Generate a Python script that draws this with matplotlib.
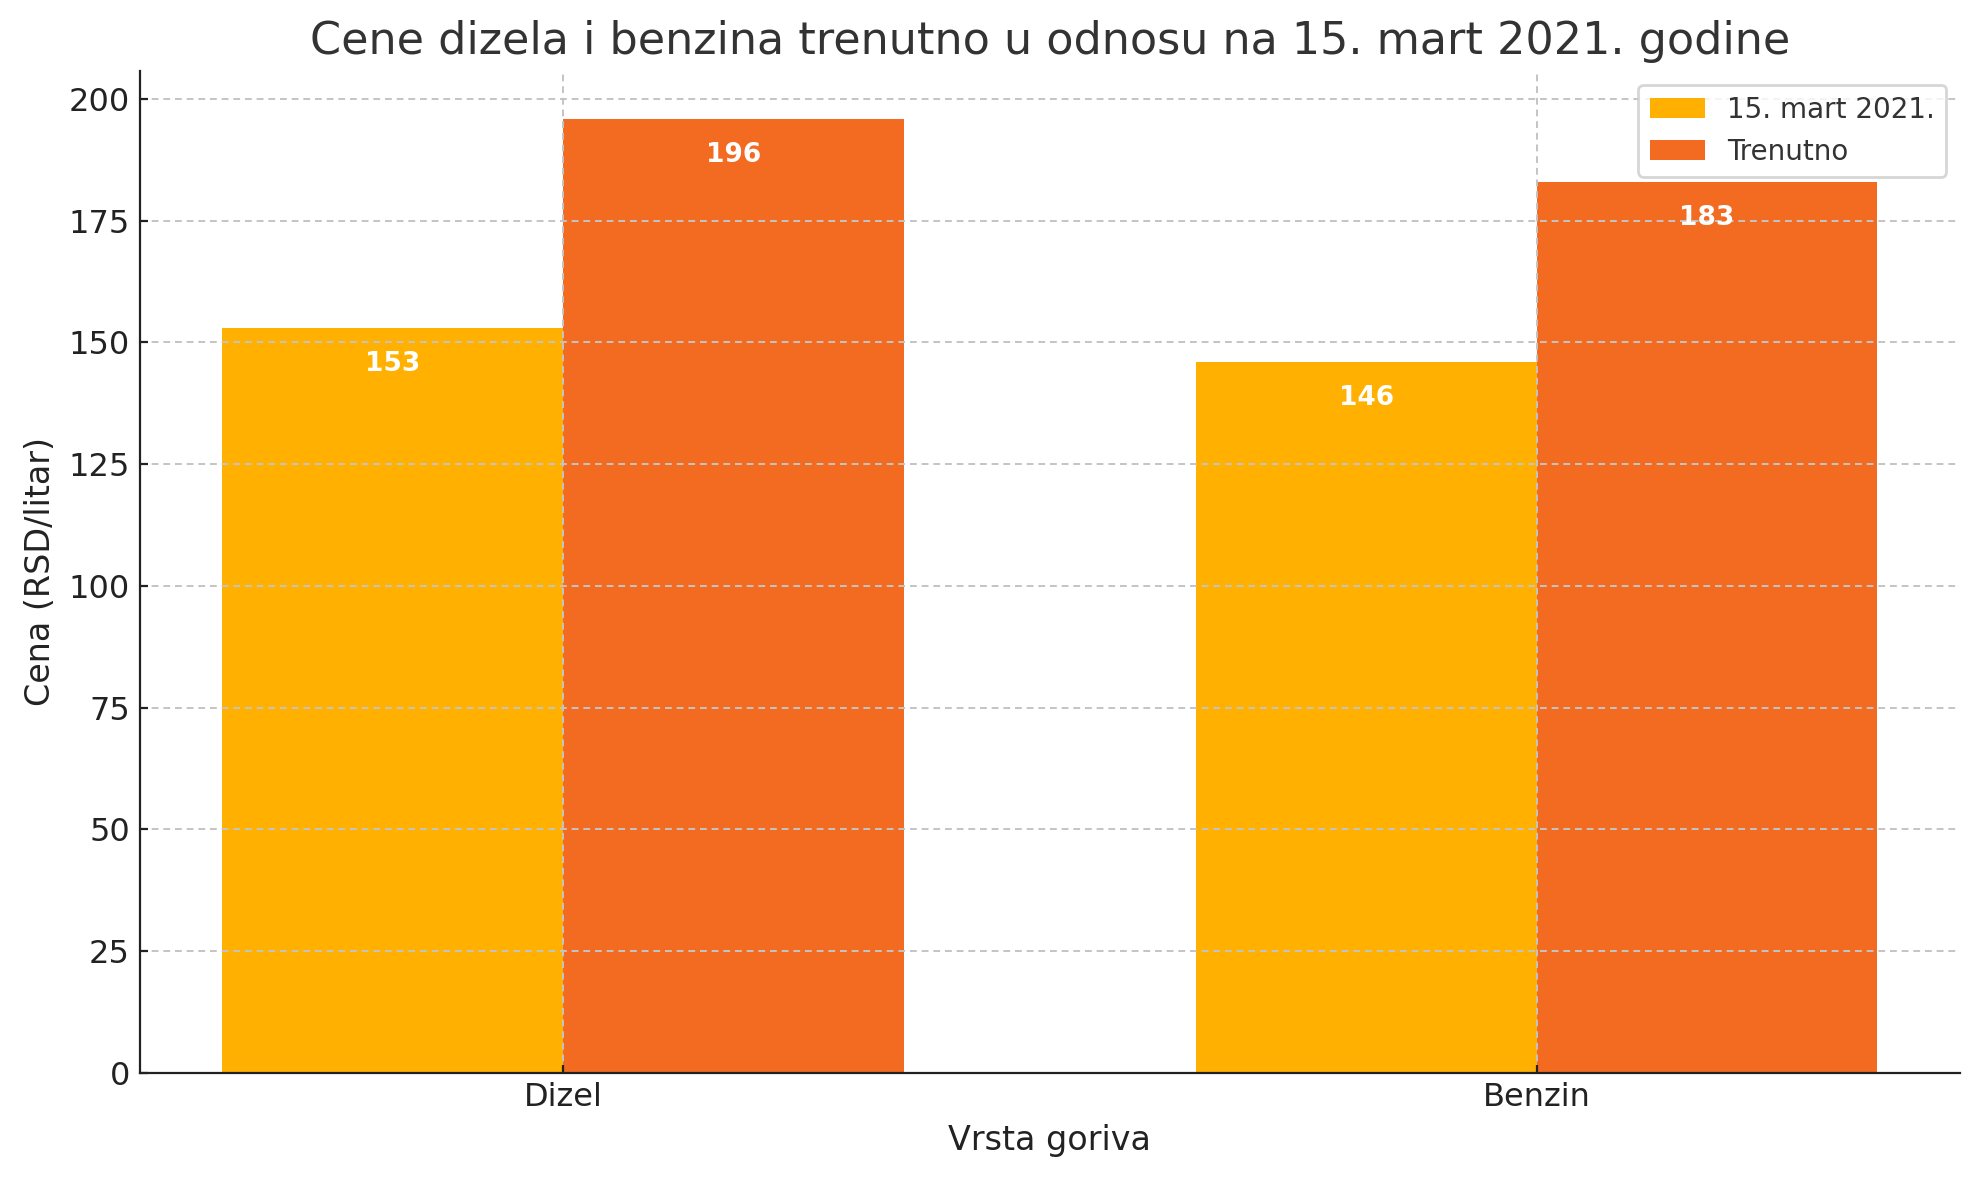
import numpy as np
import matplotlib.pyplot as plt

categories = ["Dizel", "Benzin"]
series_names = ["15. mart 2021.", "Trenutno"]
prices_2021 = [153, 146]
prices_now = [196, 183]

COLORS = ["#FFB000", "#F36A21"]
TEXT = "#333333"
W = 0.35

fig, ax = plt.subplots(figsize=(9.895, 5.9), dpi=200)
fig.subplots_adjust(left=0.0705, right=0.9905, top=0.94, bottom=0.091)

x = np.arange(len(categories))
b1 = ax.bar(x - W / 2, prices_2021, W, color=COLORS[0], label=series_names[0])
b2 = ax.bar(x + W / 2, prices_now, W, color=COLORS[1], label=series_names[1])

for bars in (b1, b2):
    for bar in bars:
        h = bar.get_height()
        ax.text(bar.get_x() + bar.get_width() / 2, h - 7.5, f"{h:.0f}",
                ha="center", va="center", color="white", fontsize=9.5, fontweight="bold")

ax.set_xticks(x)
ax.set_xticklabels(categories)
ax.tick_params(labelsize=11.5, colors="#222222", direction="in", length=3)
ax.set_xlabel("Vrsta goriva", fontsize=12, color="#222222")
ax.set_ylabel("Cena (RSD/litar)", fontsize=12, color="#222222")
ax.set_title("Cene dizela i benzina trenutno u odnosu na 15. mart 2021. godine",
             fontsize=16, color=TEXT)

ax.grid(True, linestyle=(0, (3.5, 2.5)), color="#c4c4c4", linewidth=0.7)
ax.set_axisbelow(False)
for s in ("top", "right"):
    ax.spines[s].set_visible(False)
for s in ("left", "bottom"):
    ax.spines[s].set_zorder(5)
    ax.spines[s].set_color("#222222")

leg = ax.legend(loc="upper right", fontsize=10, labelcolor=TEXT)

plt.savefig("out.png")
